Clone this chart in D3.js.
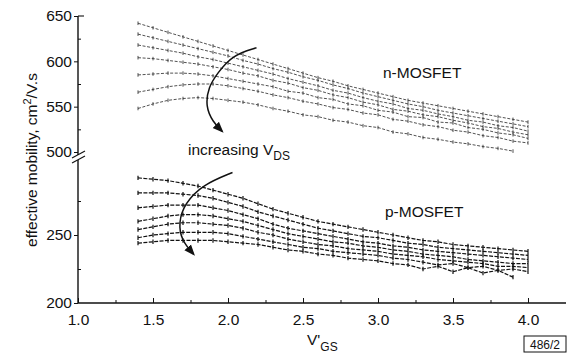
<!DOCTYPE html>
<html>
<head>
<meta charset="utf-8">
<script src="https://cdn.jsdelivr.net/npm/d3@7"></script>
<style>
  body { margin: 0; background: #fff; }
  text { font-family: "Liberation Sans", Arial, sans-serif; fill: #111; }
</style>
</head>
<body>
<svg id="chart" width="568" height="356"></svg>
<script>
// gate voltage V'GS (V)
const vgs = [1.4,1.5,1.6,1.7,1.8,1.9,2.0,2.1,2.2,2.3,2.4,2.5,2.6,2.7,2.8,2.9,3.0,3.1,3.2,3.3,3.4,3.5,3.6,3.7,3.8,3.9,4.0]

// n-MOSFET effective mobility, one curve per VDS step (cm2/V.s)
const nMos1 = [642,637,632,627,622,617,612,607,602,597,592,587,582,578,573,569,565,561,557,554,551,548,545,542,539,536,533]
const nMos2 = [630,626,622,618,614,610,606,601,597,592,588,583,579,574,570,565,561,557,553,550,546,543,540,537,534,531,528]
const nMos3 = [618,615,612,609,605,602,598,594,590,586,581,577,573,568,565,560,556,553,548,546,542,539,535,533,529,527,523]
const nMos4 = [604,603,601,599,597,594,591,587,584,579,576,571,568,563,560,555,552,547,545,541,539,535,532,528,526,522,519]
const nMos5 = [585,586,587,587,586,584,581,578,575,572,567,565,560,558,553,551,546,544,539,538,533,532,527,525,521,519,515]
const nMos6 = [566,569,572,574,575,575,573,570,567,563,560,556,553,549,547,543,541,536,534,530,528,524,522,518,516,512,510]
const nMos7 = [548,553,557,559,560,559,557,555,552,548,545,541,539,535,533,529,527,522,520,516,514,511,509,506,504,501,null]

// p-MOSFET effective mobility
const pMos1 = [292,291,290,288,286,283,280,277,273,269,266,263,260,258,256,254,252,250,248,246,245,243,242,241,240,239,238]
const pMos2 = [281,281,281,280,279,277,274,271,267,264,261,258,255,253,251,249,248,246,244,243,241,240,239,238,237,236,235]
const pMos3 = [270,271,272,272,272,270,268,265,262,258,255,253,251,249,247,245,244,242,241,239,238,237,236,235,234,233,232]
const pMos4 = [260,262,264,265,265,264,262,260,257,254,251,249,247,245,244,242,241,239,238,236,235,234,232,231,230,229,229]
const pMos5 = [254,256,258,259,259,258,257,255,252,250,247,245,243,242,240,239,238,236,235,234,232,231,230,229,227,227,226]
const pMos6 = [248,250,251,252,252,252,251,249,247,245,243,241,240,238,237,236,235,233,232,230,228,229,226,227,224,225,223]
const pMos7 = [244,245,246,246,246,246,245,244,243,241,239,238,236,235,233,232,231,229,228,225,227,223,226,222,224,219,null]

const xTicks = [1.0,1.5,2.0,2.5,3.0,3.5,4.0]
const xMinor = [1.25,1.75,2.25,2.75,3.25,3.75]
const yTopTicks = [500,550,600,650]
const yTopMinor = [525,575,625]
const yBotTicks = [200,250]
const yBotMinor = [225,275]

// annotation arrows, in data units (V'GS, mobility)
const arrowN = [[2.19,615],[2.03,607],[1.93,587],[1.87,572],[1.85,550],[1.9,533],[1.96,523]]
const arrowP = [[2.03,296],[1.83,287],[1.71,273],[1.67,259],[1.69,246],[1.77,236]]

const svg = d3.select("#chart")

const x = d3.scaleLinear().domain([1, 4]).range([78, 528])
const yTop = d3.scaleLinear().domain([500, 650]).range([152, 16])
const yBot = d3.scaleLinear().domain([200, 300]).range([303, 167])

// --- axes ---
const xAxis = svg.append("g").attr("transform", "translate(0,303)")
  .call(d3.axisBottom(x).tickValues(xTicks).tickFormat(d3.format(".1f"))
    .tickSizeInner(-5).tickSizeOuter(0).tickPadding(11))
xAxis.select(".domain").remove()
xAxis.selectAll("text").attr("font-size", 15.5).attr("font-family", null)
svg.append("g").attr("transform", "translate(0,303)")
  .call(d3.axisTop(x).tickValues(xMinor).tickSize(3).tickFormat(""))
  .select(".domain").remove()
svg.append("line").attr("x1", 78).attr("x2", 566).attr("y1", 303).attr("y2", 303)
  .attr("stroke", "#111").attr("stroke-width", 1.4)

const yAxisTop = svg.append("g").attr("transform", "translate(78,0)")
  .call(d3.axisLeft(yTop).tickValues(yTopTicks).tickSize(4).tickPadding(2))
yAxisTop.select(".domain").remove()
yAxisTop.selectAll("text").attr("font-size", 15.5).attr("font-family", null)
svg.append("g").attr("transform", "translate(78,0)")
  .call(d3.axisRight(yTop).tickValues(yTopMinor).tickSize(3).tickFormat(""))
  .select(".domain").remove()

const yAxisBot = svg.append("g").attr("transform", "translate(78,0)")
  .call(d3.axisLeft(yBot).tickValues(yBotTicks).tickSize(4).tickPadding(2))
yAxisBot.select(".domain").remove()
yAxisBot.selectAll("text").attr("font-size", 15.5).attr("font-family", null)
svg.append("g").attr("transform", "translate(78,0)")
  .call(d3.axisRight(yBot).tickValues(yBotMinor).tickSize(3).tickFormat(""))
  .select(".domain").remove()

// broken y axis line
svg.append("line").attr("x1", 78).attr("x2", 78).attr("y1", yTop(650)).attr("y2", 155)
  .attr("stroke", "#111").attr("stroke-width", 1.4)
svg.append("line").attr("x1", 78).attr("x2", 78).attr("y1", 160).attr("y2", 303)
  .attr("stroke", "#111").attr("stroke-width", 1.4)
svg.append("line").attr("x1", 72).attr("y1", 158).attr("x2", 85).attr("y2", 151)
  .attr("stroke", "#111").attr("stroke-width", 1.1)
svg.append("line").attr("x1", 72).attr("y1", 163).attr("x2", 85).attr("y2", 156)
  .attr("stroke", "#111").attr("stroke-width", 1.1)
svg.append("line").attr("x1", 78).attr("x2", 84).attr("y1", yTop(650)).attr("y2", yTop(650))
  .attr("stroke", "#111").attr("stroke-width", 1.1)

svg.selectAll(".tick line").attr("stroke", "#111")

// --- curves ---
function drawFamily(series, yScale, opts) {
  const line = d3.line()
    .defined(d => d[1] != null)
    .x(d => x(d[0])).y(d => yScale(d[1]))
  series.forEach(vals => {
    const pts = vgs.map((v, i) => [v, vals[i]])
    svg.append("path").datum(pts)
      .attr("d", line)
      .attr("fill", "none")
      .attr("stroke", opts.color)
      .attr("stroke-width", opts.width)
      .attr("stroke-dasharray", opts.dash)
    svg.append("g").selectAll("line")
      .data(pts.filter(d => d[1] != null))
      .join("line")
      .attr("x1", d => x(d[0])).attr("x2", d => x(d[0]))
      .attr("y1", d => yScale(d[1]) - opts.tick).attr("y2", d => yScale(d[1]) + opts.tick)
      .attr("stroke", opts.color)
      .attr("stroke-width", opts.width)
  })
}

drawFamily([nMos1, nMos2, nMos3, nMos4, nMos5, nMos6, nMos7], yTop,
  { color: "#333", width: 0.85, dash: "3,1.6", tick: 1.8 })
drawFamily([pMos1, pMos2, pMos3, pMos4, pMos5, pMos6, pMos7], yBot,
  { color: "#111", width: 1.2, dash: "4,1.4", tick: 2.2 })

// --- arrows ---
svg.append("defs").append("marker")
  .attr("id", "head").attr("viewBox", "0 0 10 10")
  .attr("refX", 8).attr("refY", 5)
  .attr("markerWidth", 11).attr("markerHeight", 11)
  .attr("markerUnits", "userSpaceOnUse")
  .attr("orient", "auto")
  .append("path").attr("d", "M0,1 L10,5 L0,9 Z").attr("fill", "#111")

svg.append("path").datum(arrowN)
  .attr("d", d3.line().curve(d3.curveBasis).x(d => x(d[0])).y(d => yTop(d[1])))
  .attr("fill", "none").attr("stroke", "#111").attr("stroke-width", 1.5)
  .attr("marker-end", "url(#head)")
svg.append("path").datum(arrowP)
  .attr("d", d3.line().curve(d3.curveBasis).x(d => x(d[0])).y(d => yBot(d[1])))
  .attr("fill", "none").attr("stroke", "#111").attr("stroke-width", 1.5)
  .attr("marker-end", "url(#head)")

// --- labels ---
svg.append("text").attr("x", 383).attr("y", 78).attr("font-size", 15.5).text("n-MOSFET")
svg.append("text").attr("x", 385).attr("y", 217).attr("font-size", 15.5).text("p-MOSFET")

const inc = svg.append("text").attr("x", 188).attr("y", 155).attr("font-size", 15.5)
inc.append("tspan").text("increasing V")
inc.append("tspan").attr("dy", 5).attr("font-size", 12).text("DS")

const xt = svg.append("text").attr("x", 307).attr("y", 345).attr("font-size", 15.5)
xt.append("tspan").text("V'")
xt.append("tspan").attr("dy", 6).attr("font-size", 12).text("GS")

const yt = svg.append("text")
  .attr("transform", "translate(37,160) rotate(-90)")
  .attr("text-anchor", "middle").attr("font-size", 15.5)
yt.append("tspan").text("effective mobility, cm")
yt.append("tspan").attr("dy", -6).attr("font-size", 11).text("2")
yt.append("tspan").attr("dy", 6).text("/V.s")

svg.append("rect").attr("x", 524).attr("y", 336).attr("width", 42).attr("height", 16)
  .attr("fill", "none").attr("stroke", "#111").attr("stroke-width", 1)
svg.append("text").attr("x", 545).attr("y", 349).attr("text-anchor", "middle")
  .attr("font-size", 12).text("486/2")
</script>
</body>
</html>
